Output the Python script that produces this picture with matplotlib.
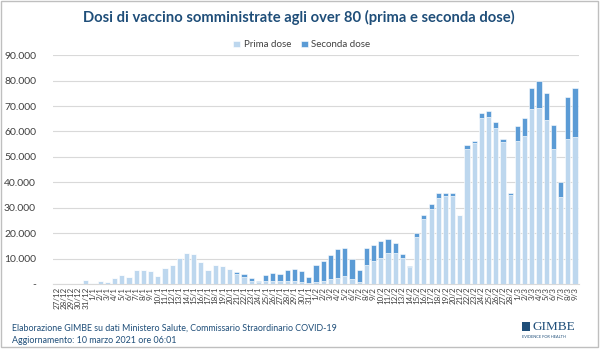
import matplotlib
matplotlib.use("Agg")
import matplotlib.pyplot as plt
from matplotlib.patches import Rectangle
from matplotlib.ticker import FuncFormatter

# Dates (27/12/2020 -> 9/3/2021)
days = ([f"{d}/12" for d in range(27, 32)]
        + [f"{d}/1" for d in range(1, 32)]
        + [f"{d}/2" for d in range(1, 29)]
        + [f"{d}/3" for d in range(1, 10)])

prima_dose = [
    100, 100, 200, 200, 1700,
    400, 1300, 900, 2500, 3550, 2600, 5650, 5500, 5250, 3000,
    6450, 7600, 10400, 12400, 12000, 8800, 5500, 7400, 7100, 5800,
    3950, 2600, 1050, 650, 1050, 1300, 1300, 1050, 1100, 800, 500,
    800, 1300, 2000, 2500, 3200, 2100, 800, 7600, 8900, 10400,
    12200, 12200, 10400, 6700, 18700, 25400, 29500, 33700, 34700, 34700,
    27000, 53300, 55300, 65300, 65700, 61200, 55800, 35000,
    56200, 58400, 68700, 69200, 64600, 53200, 34300, 57200, 58000,
]
seconda_dose = [
    0, 0, 0, 0, 0,
    0, 0, 0, 0, 0, 0, 0, 0, 0, 0,
    0, 0, 0, 0, 0, 0, 200, 150, 50, 150,
    950, 1500, 1350, 650, 2500, 3200, 2800, 4600, 4900, 4300, 2300,
    6600, 7600, 9300, 11300, 11100, 7800, 4600, 6500, 6400, 6600,
    5600, 4000, 1400, 400, 1400, 1600, 1800, 2100, 1200, 1200,
    300, 1200, 900, 1800, 2200, 2600, 1300, 800,
    6000, 7000, 8400, 10500, 10700, 9200, 6000, 16400, 19200,
]

TITLE_BLUE = "#1F4E79"
LIGHT_BLUE = "#BDD7EE"
DARK_BLUE = "#5B9BD5"
FONT = "Lato"

plt.rcParams["font.family"] = [FONT, "DejaVu Sans"]

fig = plt.figure(figsize=(6.0, 3.49), dpi=100)
ax = fig.add_axes([0.0878, 0.186, 0.8777, 0.656])

x = list(range(len(days)))
ax.bar(x, prima_dose, width=0.72, color=LIGHT_BLUE, edgecolor="white",
       linewidth=0.4, label="Prima dose", zorder=3)
ax.bar(x, seconda_dose, width=0.72, bottom=prima_dose, color=DARK_BLUE,
       edgecolor="white", linewidth=0.4, label="Seconda dose", zorder=3)

ax.set_xlim(-0.6, len(days) - 0.4)
ax.set_ylim(0, 90000)
ax.set_yticks(range(0, 90001, 10000))
ax.yaxis.set_major_formatter(FuncFormatter(
    lambda v, p: "-" if v == 0 else f"{int(v):,}".replace(",", ".")))
ax.set_xticks(x)
ax.set_xticklabels(days, rotation=90, fontsize=5.8, color="#404040")
ax.tick_params(axis="y", length=0, pad=12, labelsize=7.5, labelcolor="#404040")
ax.tick_params(axis="x", length=0, pad=2)

ax.yaxis.grid(True, color="#D9D9D9", linewidth=0.8, zorder=0)
for s in ["top", "right", "left"]:
    ax.spines[s].set_visible(False)
ax.spines["bottom"].set_color("#D9D9D9")

leg = ax.legend(loc="center", bbox_to_anchor=(0.473, 1.045), ncol=2,
                frameon=False, fontsize=7, handlelength=0.7, handleheight=0.7,
                handletextpad=0.4, columnspacing=1.0)
for t in leg.get_texts():
    t.set_color("#404040")

fig.text(0.498, 0.951, "Dosi di vaccino somministrate agli over 80 (prima e seconda dose)",
         ha="center", va="center", fontsize=10.6, fontweight="bold", color=TITLE_BLUE)

fig.text(0.02, 0.061, "Elaborazione GIMBE su dati Ministero Salute, Commissario Straordinario COVID-19",
         ha="left", va="center", fontsize=6.4, color=TITLE_BLUE)
fig.text(0.02, 0.024, "Aggiornamento: 10 marzo 2021 ore 06:01",
         ha="left", va="center", fontsize=6.4, color=TITLE_BLUE)

# GIMBE logo
fig.patches.append(Rectangle((0.870, 0.051), 0.014, 0.026, transform=fig.transFigure,
                             facecolor=TITLE_BLUE, edgecolor="none"))
fig.text(0.887, 0.064, "GIMBE", ha="left", va="center", fontsize=9.5,
         family="Liberation Serif", color=TITLE_BLUE)
fig.text(0.870, 0.033, "EVIDENCE FOR HEALTH", ha="left", va="center", fontsize=2.8,
         color=TITLE_BLUE)

# outer border
fig.patches.append(Rectangle((0.002, 0.006), 0.995, 0.99, transform=fig.transFigure,
                             facecolor="none", edgecolor="#BFBFBF", linewidth=1.0))

fig.savefig("out.png", dpi=100)
